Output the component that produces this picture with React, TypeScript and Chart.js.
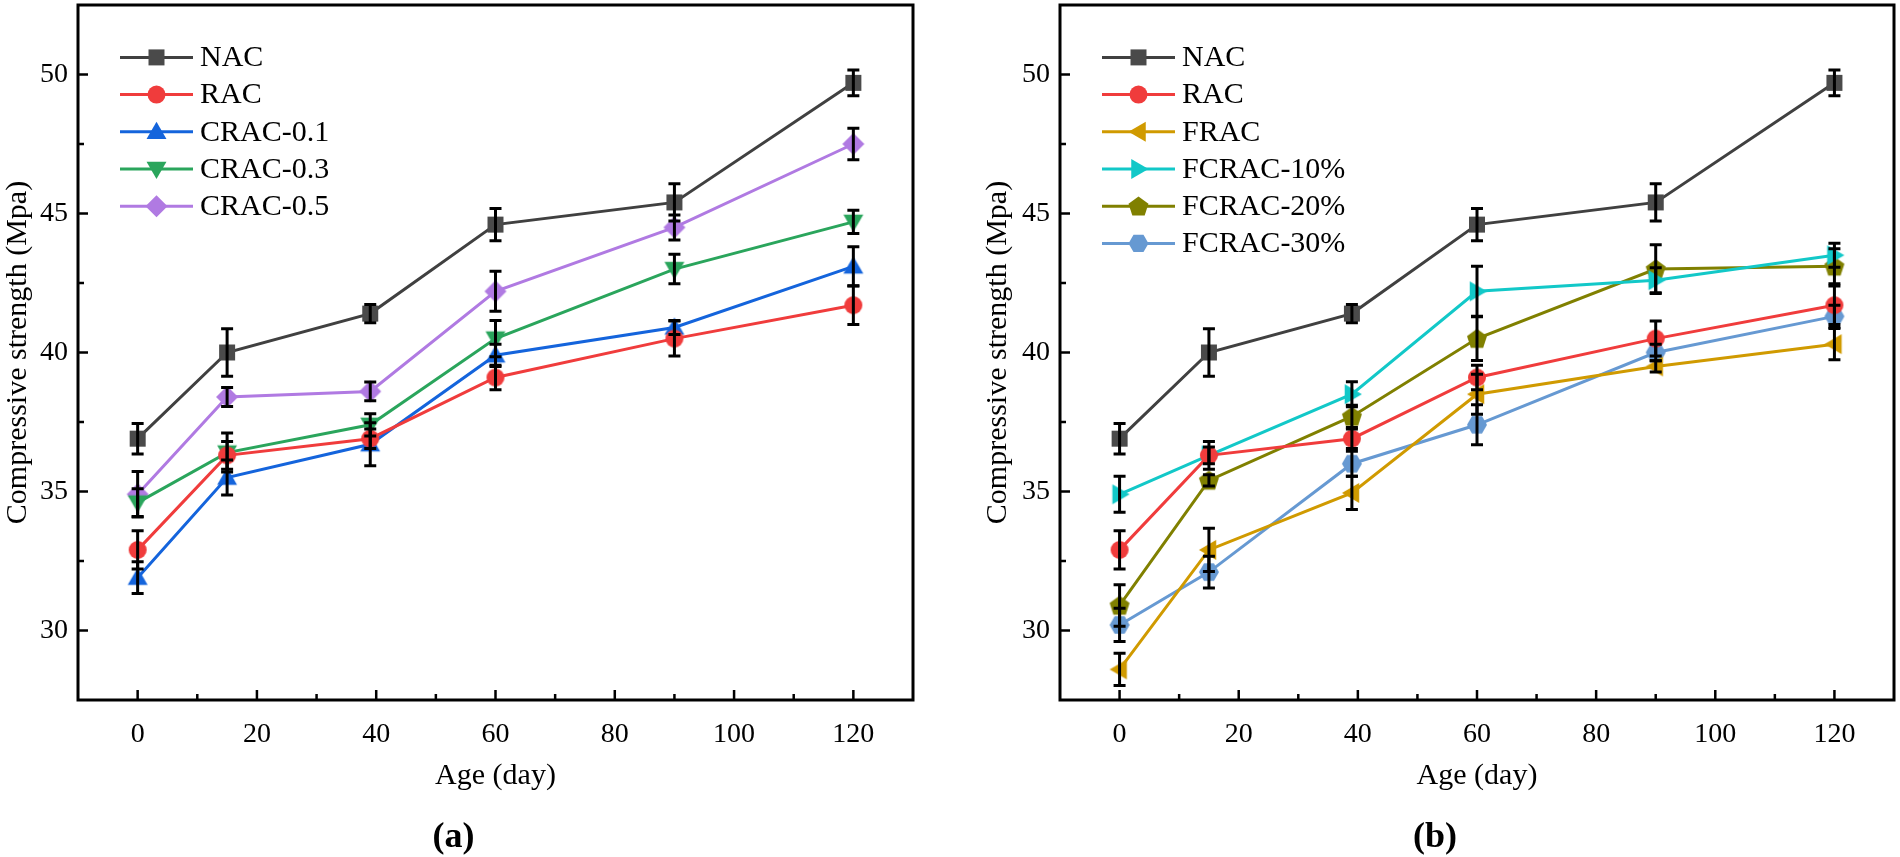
import React, { useEffect, useRef } from 'react';
import { Chart, registerables } from 'chart.js';

Chart.register(...registerables);

// ---------- data ----------
const ages = [0, 15, 39, 60, 90, 120];
const xTicks = [0, 20, 40, 60, 80, 100, 120];
const yTicks = [30, 35, 40, 45, 50];

const nacValues = [36.9, 40.0, 41.4, 44.6, 45.4, 49.7];
const nacErrors = [0.55, 0.85, 0.33, 0.58, 0.67, 0.46];
const racValues = [32.9, 36.3, 36.9, 39.1, 40.5, 41.7];
const racErrors = [0.69, 0.5, 0.35, 0.44, 0.63, 0.69];
const crac01Values = [31.9, 35.5, 36.7, 39.9, 40.9, 43.1];
const crac01Errors = [0.57, 0.63, 0.77, 0.4, 0.25, 0.7];
const crac03Values = [34.6, 36.4, 37.4, 40.5, 43.0, 44.7];
const crac03Errors = [0.5, 0.7, 0.4, 0.65, 0.53, 0.42];
const crac05Values = [34.9, 38.4, 38.6, 42.2, 44.5, 47.5];
const crac05Errors = [0.82, 0.34, 0.34, 0.72, 0.45, 0.57];

const fracValues = [28.6, 32.9, 34.95, 38.5, 39.5, 40.3];
const fracErrors = [0.58, 0.78, 0.6, 0.72, 0.2, 0.56];
const fcrac10Values = [34.9, 36.3, 38.5, 42.2, 42.6, 43.5];
const fcrac10Errors = [0.65, 0.3, 0.45, 0.9, 0.45, 0.43];
const fcrac20Values = [30.9, 35.4, 37.7, 40.5, 43.0, 43.1];
const fcrac20Errors = [0.75, 0.2, 0.4, 0.79, 0.88, 0.63];
const fcrac30Values = [30.2, 32.1, 36.0, 37.4, 40.0, 41.3];
const fcrac30Errors = [0.6, 0.57, 0.45, 0.72, 0.3, 0.4];

const panelALabels = ['NAC', 'RAC', 'CRAC-0.1', 'CRAC-0.3', 'CRAC-0.5'];
const panelBLabels = ['NAC', 'RAC', 'FRAC', 'FCRAC-10%', 'FCRAC-20%', 'FCRAC-30%'];

const xTitle = 'Age (day)';
const yTitle = 'Compressive strength (Mpa)';

// ---------- styles ----------
const FONT = "'Liberation Serif', 'Times New Roman', Times, serif";

type Shape = 'square' | 'circle' | 'triUp' | 'triDown' | 'triLeft' | 'triRight' | 'diamond' | 'pentagon' | 'hexagon';

const styleA = [
  { line: '#404040', fill: '#4a4a4a', shape: 'square' as Shape },
  { line: '#f03c3c', fill: '#f03c3c', shape: 'circle' as Shape },
  { line: '#1464dc', fill: '#1464dc', shape: 'triUp' as Shape },
  { line: '#2aa55c', fill: '#2aa55c', shape: 'triDown' as Shape },
  { line: '#b07ae2', fill: '#b07ae2', shape: 'diamond' as Shape },
];
const styleB = [
  { line: '#404040', fill: '#4a4a4a', shape: 'square' as Shape },
  { line: '#f03c3c', fill: '#f03c3c', shape: 'circle' as Shape },
  { line: '#d09a00', fill: '#d09a00', shape: 'triLeft' as Shape },
  { line: '#12c8c8', fill: '#12c8c8', shape: 'triRight' as Shape },
  { line: '#808000', fill: '#808000', shape: 'pentagon' as Shape },
  { line: '#6699d2', fill: '#6699d2', shape: 'hexagon' as Shape },
];

function polyPath(ctx: CanvasRenderingContext2D, x: number, y: number, n: number, r: number, startDeg: number) {
  for (let i = 0; i < n; i++) {
    const a = ((startDeg + (i * 360) / n) * Math.PI) / 180;
    const px = x + r * Math.cos(a);
    const py = y + r * Math.sin(a);
    if (i === 0) ctx.moveTo(px, py);
    else ctx.lineTo(px, py);
  }
  ctx.closePath();
}

function drawMarker(ctx: CanvasRenderingContext2D, shape: Shape, x: number, y: number, color: string) {
  ctx.save();
  ctx.fillStyle = color;
  ctx.beginPath();
  switch (shape) {
    case 'square':
      ctx.rect(x - 8, y - 8, 16, 16);
      break;
    case 'circle':
      ctx.arc(x, y, 9, 0, Math.PI * 2);
      break;
    case 'triUp':
      polyPath(ctx, x, y + 1.5, 3, 11.5, -90);
      break;
    case 'triDown':
      polyPath(ctx, x, y - 1.5, 3, 11.5, 90);
      break;
    case 'triLeft':
      polyPath(ctx, x + 1.5, y, 3, 11.5, 180);
      break;
    case 'triRight':
      polyPath(ctx, x - 1.5, y, 3, 11.5, 0);
      break;
    case 'diamond':
      polyPath(ctx, x, y, 4, 11, -90);
      break;
    case 'pentagon':
      polyPath(ctx, x, y + 0.8, 5, 10.5, -90);
      break;
    case 'hexagon':
      polyPath(ctx, x, y, 6, 10, 0);
      break;
  }
  ctx.fill();
  ctx.restore();
}

function markerImage(shape: Shape, color: string): HTMLCanvasElement {
  const c = document.createElement('canvas');
  c.width = 28;
  c.height = 28;
  const ctx = c.getContext('2d')!;
  drawMarker(ctx, shape, 14, 14, color);
  return c;
}

function makeDataset(label: string, values: number[], errors: number[], st: { line: string; fill: string; shape: Shape }) {
  return {
    label,
    data: ages.map((a, i) => ({ x: a, y: values[i] })),
    errors,
    borderColor: st.line,
    backgroundColor: st.fill,
    borderWidth: 3,
    pointStyle: markerImage(st.shape, st.fill),
    pointRadius: 11,
    pointHoverRadius: 11,
    tension: 0,
    fill: false,
    clip: false,
    shape: st.shape,
    markerColor: st.fill,
  } as any;
}

function decorPlugin(opts: { yTitleX: number; panelLabel: string }) {
  return {
    id: 'decor',
    afterDatasetsDraw(chart: any) {
      const ctx: CanvasRenderingContext2D = chart.ctx;
      const ca = chart.chartArea;
      const xs = chart.scales.x;
      const ys = chart.scales.y;

      // error bars
      chart.data.datasets.forEach((ds: any) => {
        ds.data.forEach((pt: any, i: number) => {
          const e = ds.errors[i];
          const px = xs.getPixelForValue(pt.x);
          const t = ys.getPixelForValue(pt.y + e);
          const b = ys.getPixelForValue(pt.y - e);
          ctx.save();
          ctx.strokeStyle = '#000';
          ctx.lineWidth = 3;
          ctx.beginPath();
          ctx.moveTo(px, t);
          ctx.lineTo(px, b);
          ctx.moveTo(px - 6, t);
          ctx.lineTo(px + 6, t);
          ctx.moveTo(px - 6, b);
          ctx.lineTo(px + 6, b);
          ctx.stroke();
          ctx.restore();
        });
      });

      // frame
      ctx.save();
      ctx.strokeStyle = '#000';
      ctx.lineWidth = 3;
      ctx.strokeRect(ca.left, ca.top, ca.right - ca.left, ca.bottom - ca.top);

      // ticks (inward)
      ctx.lineWidth = 2.5;
      ctx.beginPath();
      xTicks.forEach((v, i) => {
        const px = xs.getPixelForValue(v);
        ctx.moveTo(px, ca.bottom);
        ctx.lineTo(px, ca.bottom - 10);
        if (i < xTicks.length - 1) {
          const mx = xs.getPixelForValue((v + xTicks[i + 1]) / 2);
          ctx.moveTo(mx, ca.bottom);
          ctx.lineTo(mx, ca.bottom - 6);
        }
      });
      yTicks.forEach((v, i) => {
        const py = ys.getPixelForValue(v);
        ctx.moveTo(ca.left, py);
        ctx.lineTo(ca.left + 10, py);
        if (i < yTicks.length - 1) {
          const my = ys.getPixelForValue((v + yTicks[i + 1]) / 2);
          ctx.moveTo(ca.left, my);
          ctx.lineTo(ca.left + 6, my);
        }
      });
      ctx.stroke();
      ctx.restore();

      // legend
      const lx = ca.left + 42;
      chart.data.datasets.forEach((ds: any, i: number) => {
        const ly = 57.4 + i * 37.2;
        ctx.save();
        ctx.strokeStyle = ds.borderColor;
        ctx.lineWidth = 3;
        ctx.beginPath();
        ctx.moveTo(lx, ly);
        ctx.lineTo(lx + 73, ly);
        ctx.stroke();
        drawMarker(ctx, ds.shape, lx + 36.5, ly, ds.markerColor);
        ctx.fillStyle = '#000';
        ctx.font = `30px ${FONT}`;
        ctx.textAlign = 'left';
        ctx.textBaseline = 'middle';
        ctx.fillText(ds.label, lx + 80, ly + 1);
        ctx.restore();
      });

      // titles
      ctx.save();
      ctx.fillStyle = '#000';
      ctx.font = `30px ${FONT}`;
      ctx.textAlign = 'center';
      ctx.textBaseline = 'middle';
      ctx.translate(opts.yTitleX, (ca.top + ca.bottom) / 2);
      ctx.rotate(-Math.PI / 2);
      ctx.fillText(yTitle, 0, 0);
      ctx.restore();

      ctx.save();
      ctx.fillStyle = '#000';
      ctx.font = `30px ${FONT}`;
      ctx.textAlign = 'center';
      ctx.textBaseline = 'middle';
      const cx = (ca.left + ca.right) / 2;
      ctx.fillText(xTitle, cx, 776);
      ctx.font = `bold 36px ${FONT}`;
      ctx.fillText(opts.panelLabel, cx - 42, 838);
      ctx.restore();
    },
  };
}

function makeConfig(datasets: any[], plotLeft: number, rightPad: number, yTitleX: number, panelLabel: string) {
  return {
    type: 'line',
    data: { datasets },
    options: {
      animation: false,
      responsive: false,
      devicePixelRatio: 1,
      layout: { autoPadding: false, padding: { left: 0, right: rightPad, top: 5, bottom: 0 } },
      plugins: { legend: { display: false }, tooltip: { enabled: false } },
      events: [],
      scales: {
        x: {
          type: 'linear',
          min: -10,
          max: 130,
          afterBuildTicks: (s: any) => {
            s.ticks = xTicks.map((v) => ({ value: v }));
          },
          afterFit: (s: any) => {
            s.height = 157;
            s.paddingLeft = 0;
            s.paddingRight = 0;
            s.paddingTop = 0;
            s.paddingBottom = 0;
          },
          grid: { display: false, drawTicks: false },
          border: { display: false },
          ticks: { font: { family: FONT, size: 28 }, color: '#000', padding: 18, maxRotation: 0, autoSkip: false },
        },
        y: {
          type: 'linear',
          min: 27.5,
          max: 52.5,
          afterBuildTicks: (s: any) => {
            s.ticks = yTicks.map((v) => ({ value: v }));
          },
          afterFit: (s: any) => {
            s.width = plotLeft;
            s.paddingLeft = 0;
            s.paddingRight = 0;
            s.paddingTop = 0;
            s.paddingBottom = 0;
          },
          grid: { display: false, drawTicks: false },
          border: { display: false },
          ticks: { font: { family: FONT, size: 28 }, color: '#000', padding: 10, autoSkip: false },
        },
      },
    },
    plugins: [decorPlugin({ yTitleX, panelLabel })],
  } as any;
}

function Panel({ left, build }: { left: number; build: () => any }) {
  const ref = useRef<HTMLCanvasElement>(null);
  useEffect(() => {
    const chart = new Chart(ref.current as HTMLCanvasElement, build());
    return () => chart.destroy();
  }, []);
  return (
    <canvas
      ref={ref}
      width={950}
      height={857}
      style={{ position: 'absolute', left, top: 0, width: 950, height: 857 }}
    />
  );
}

export default function App() {
  const buildA = () => {
    const vals = [nacValues, racValues, crac01Values, crac03Values, crac05Values];
    const errs = [nacErrors, racErrors, crac01Errors, crac03Errors, crac05Errors];
    const ds = panelALabels.map((l, i) => makeDataset(l, vals[i], errs[i], styleA[i]));
    return makeConfig(ds, 78, 37, 18, '(a)');
  };
  const buildB = () => {
    const vals = [nacValues, racValues, fracValues, fcrac10Values, fcrac20Values, fcrac30Values];
    const errs = [nacErrors, racErrors, fracErrors, fcrac10Errors, fcrac20Errors, fcrac30Errors];
    const ds = panelBLabels.map((l, i) => makeDataset(l, vals[i], errs[i], styleB[i]));
    return makeConfig(ds, 110, 6, 48, '(b)');
  };
  return (
    <div style={{ position: 'absolute', left: 0, top: 0, width: 1900, height: 857, background: '#fff' }}>
      <Panel left={0} build={buildA} />
      <Panel left={950} build={buildB} />
    </div>
  );
}
